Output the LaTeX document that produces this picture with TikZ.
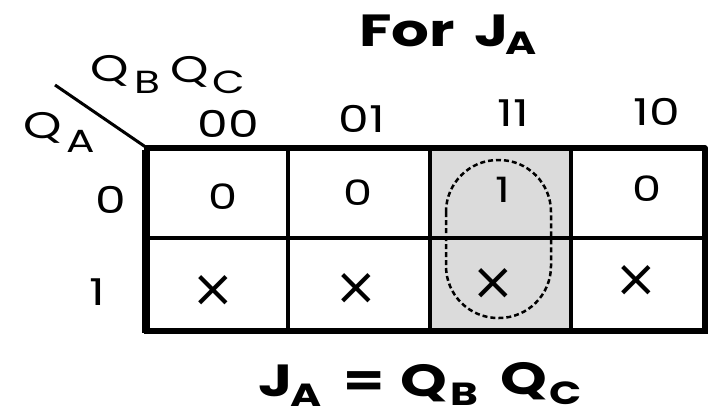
\documentclass[tikz,border=0pt]{standalone}
\usepackage{fontspec}
\usepackage{graphicx}
\setmainfont{Poppins}
\newfontfamily\xfont{DejaVu Sans}
\newcommand{\wide}[1]{\scalebox{1.32}[1]{#1}}
\begin{document}
\begin{tikzpicture}[x=1pt,y=-1pt,
  lbl/.style={font=\fontsize{37}{39}\selectfont, inner sep=0pt},
  sub/.style={font=\fontsize{32}{34}\selectfont, inner sep=0pt},
  val/.style={font=\fontsize{35}{37}\selectfont, inner sep=0pt},
  crs/.style={font=\xfont\fontsize{52}{54}\selectfont, inner sep=0pt},
  ttl/.style={font=\bfseries\fontsize{45}{47}\selectfont, inner sep=0pt},
  tsub/.style={font=\bfseries\fontsize{32}{34}\selectfont, inner sep=0pt},
  inner/.style={line width=3.5pt},
  outer/.style={line width=5.5pt, line cap=round, line join=miter}]
\useasboundingbox (0,0) rectangle (708,417);
% shaded column
\fill[gray!28] (430,148) rectangle (571,331);
% grid
\draw[inner] (147,238) -- (705,238);
\draw[inner] (288,148) -- (288,331);
\draw[inner] (430,148) -- (430,331);
\draw[inner] (571,148) -- (571,331);
\draw[outer] (705,148) -- (147,148) -- (147,331) -- (705,331) -- (705,148);
\draw[line width=7pt] (145,150) -- (145,333);
% diagonal
\draw[line width=3pt] (55,85) -- (150,150);
% group loop
\draw[line width=2.5pt, dash pattern=on 5pt off 3pt, rounded corners=52pt] (446,160) rectangle (551,318);
% title
\node[ttl, anchor=base west] (tfor) at (359,47) {\wide{For}};
\node[ttl, anchor=base west] (tj) at (474,47) {\wide{J}};
\node[tsub, anchor=base west] (ta) at (505,55) {\wide{A}};
% variable labels
\node[lbl, anchor=base west] (qb) at (90,82) {\wide{Q}};
\node[sub, anchor=base west] (qbs) at (134,93) {\wide{B}};
\node[lbl, anchor=base west] (qc) at (170,83) {\wide{Q}};
\node[sub, anchor=base west] (qcs) at (212,93) {\wide{C}};
\node[lbl, anchor=base west] (qa) at (23,138) {\wide{Q}};
\node[sub, anchor=base west] (qas) at (66,152) {\wide{A}};
% column / row headers
\node[lbl] (c00) at (228,124) {\wide{00}};
\node[lbl] (c01) at (362,119) {\wide{01}};
\node[lbl] (c11) at (513,113) {\wide{11}};
\node[lbl] (c10) at (657,112) {\wide{10}};
\node[lbl] (r0) at (111,200) {\wide{0}};
\node[lbl] (r1) at (97,292) {\wide{1}};
% cells
\node[val] (m0) at (223,197) {\wide{0}};
\node[val] (m1) at (358,193) {\wide{0}};
\node[val] (m3) at (503,190) {\wide{1}};
\node[val] (m2) at (647,189) {\wide{0}};
\node[crs] (m4) at (213,291) {×};
\node[crs] (m5) at (356,289) {×};
\node[crs] (m7) at (493,284) {×};
\node[crs] (m6) at (636,281) {×};
% equation
\node[ttl, anchor=base west] (ej) at (258,396) {\wide{J}};
\node[tsub, anchor=base west] (ea) at (290,406) {\wide{A}};
\node[ttl, anchor=base west] (eeq) at (343,396) {\wide{=}};
\node[ttl, anchor=base west] (eq1) at (400,396) {\wide{Q}};
\node[tsub, anchor=base west] (eb) at (450,405) {\wide{B}};
\node[ttl, anchor=base west] (eq2) at (500,394) {\wide{Q}};
\node[tsub, anchor=base west] (ec) at (549,404) {\wide{C}};
\end{tikzpicture}
\end{document}
